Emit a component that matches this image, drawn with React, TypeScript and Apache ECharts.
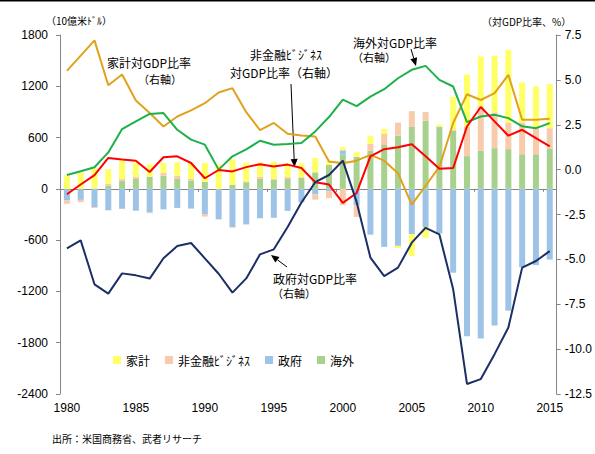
import React, { useEffect, useRef } from 'react';
import * as echarts from 'echarts';

const years = ['1980','1981','1982','1983','1984','1985','1986','1987','1988','1989','1990','1991','1992','1993','1994','1995','1996','1997','1998','1999','2000','2001','2002','2003','2004','2005','2006','2007','2008','2009','2010','2011','2012','2013','2014','2015'];

// Net lending by sector (billion USD)
const householdBar = [157,190,241,171,214,167,144,117,155,186,221,285,296,219,168,199,161,163,168,43,36,53,90,57,-24,-254,-124,22,383,607,582,662,855,467,487,516];
const businessBar = [-39,-27,-10,24,23,22,-6,33,39,21,-29,-1,-7,10,22,13,23,8,-63,-80,-190,-138,81,131,153,184,102,7,13,347,523,418,306,373,308,237];
const governmentBar = [-125,-126,-214,-251,-233,-256,-278,-240,-223,-231,-295,-357,-447,-416,-344,-339,-258,-157,-63,-29,51,-190,-536,-679,-667,-531,-448,-522,-981,-1725,-1750,-1598,-1425,-916,-892,-827];
const foreignBar = [-9,-3,4,35,91,117,142,153,116,94,83,0,48,78,117,106,115,127,193,282,400,375,445,513,622,725,798,723,681,383,444,476,465,405,405,472];

// Ratio to GDP (%), right axis
const householdPct = [5.5,6.35,7.2,4.7,5.3,3.85,3.15,2.4,2.96,3.3,3.7,4.3,4.54,3.2,2.2,2.6,2.0,1.9,1.85,0.45,0.35,0.5,0.82,0.5,-0.2,-1.95,-0.9,0.15,2.6,4.2,3.88,4.26,5.28,2.78,2.78,2.83];
const businessPct = [-1.37,-0.83,-0.31,0.65,0.56,0.5,-0.13,0.69,0.74,0.37,-0.48,-0.02,-0.1,0.14,0.3,0.17,0.28,0.09,-0.7,-0.83,-1.85,-1.3,0.74,1.14,1.25,1.41,0.74,0.05,0.09,2.4,3.49,2.69,1.89,2.22,1.76,1.3];
const governmentPct = [-4.39,-3.94,-6.39,-6.91,-5.78,-5.89,-6.07,-4.94,-4.26,-4.09,-4.94,-5.8,-6.85,-6.06,-4.72,-4.44,-3.2,-1.83,-0.7,-0.3,0.5,-1.8,-4.9,-5.93,-5.46,-4.07,-3.24,-3.61,-6.67,-11.94,-11.67,-10.28,-8.8,-5.46,-5.09,-4.54];
const foreignPct = [-0.3,-0.09,0.13,0.96,2.26,2.69,3.1,3.15,2.22,1.67,1.39,0.0,0.74,1.13,1.61,1.39,1.43,1.48,2.13,2.93,3.9,3.54,4.07,4.48,5.09,5.56,5.78,5.0,4.63,2.65,2.96,3.06,2.87,2.41,2.31,2.59];

const legendNames = ['家計', '非金融ﾋﾞｼﾞﾈｽ', '政府', '海外'];

const JP = '"Noto Sans CJK JP", sans-serif';
const NUM = '"Liberation Sans", Arial, sans-serif';

function txt(text: string, x: number, y: number, size: number, align: string = 'left') {
  return {
    type: 'text', x, y, silent: true,
    style: { text, font: `${size}px ${JP}`, fill: '#000', textAlign: align, textVerticalAlign: 'middle' },
  };
}

function arrow(x1: number, y1: number, x2: number, y2: number) {
  const dx = x2 - x1, dy = y2 - y1;
  const len = Math.sqrt(dx * dx + dy * dy);
  const ux = dx / len, uy = dy / len;
  const hl = 8, hw = 3.5;
  const bx = x2 - ux * hl, by = y2 - uy * hl;
  return [
    { type: 'line', silent: true, shape: { x1, y1, x2: bx, y2: by }, style: { stroke: '#000', lineWidth: 1 } },
    { type: 'polygon', silent: true, shape: { points: [[x2, y2], [bx - uy * hw, by + ux * hw], [bx + uy * hw, by - ux * hw]] }, style: { fill: '#000' } },
  ];
}

export default function App() {
  const ref = useRef<HTMLDivElement>(null);
  useEffect(() => {
    if (!ref.current) return;
    const chart = echarts.init(ref.current, undefined, { renderer: 'svg' });
    const axisColor = '#868686';
    const barCommon = { type: 'bar', stack: 'total', barWidth: 6, xAxisIndex: 0, yAxisIndex: 0 };
    const lineCommon = { type: 'line', xAxisIndex: 0, yAxisIndex: 1, symbol: 'none', z: 5 };
    chart.setOption({
      animation: false,
      grid: { left: 60, right: 38, top: 35, bottom: 60, containLabel: false },
      legend: {
        data: legendNames, left: 108, top: 349, icon: 'rect', itemWidth: 8, itemHeight: 8, itemGap: 15,
        textStyle: { fontFamily: JP, fontSize: 12, color: '#000' }, selectedMode: false,
      },
      xAxis: [
        {
          type: 'category', data: years, position: 'bottom', boundaryGap: true,
          axisLine: { show: true, onZero: true, onZeroAxisIndex: 0, lineStyle: { color: axisColor, width: 1 } },
          axisTick: { show: true, interval: 4, length: 3, lineStyle: { color: axisColor } },
          axisLabel: { show: false }, splitLine: { show: false },
        },
        {
          type: 'category', data: years, position: 'bottom', boundaryGap: true,
          axisLine: { show: false, onZero: false }, axisTick: { show: false },
          axisLabel: { show: true, interval: 4, margin: 8, fontSize: 12, fontFamily: NUM, color: '#000' },
          splitLine: { show: false },
        },
      ],
      yAxis: [
        {
          type: 'value', min: -2400, max: 1800, interval: 600, position: 'left',
          axisLine: { show: true, lineStyle: { color: axisColor } },
          axisTick: { show: true, length: 4, lineStyle: { color: axisColor } },
          axisLabel: { fontSize: 12, fontFamily: NUM, color: '#000', margin: 12, formatter: (v: number) => String(v) },
          splitLine: { show: false },
        },
        {
          type: 'value', min: -12.5, max: 7.5, interval: 2.5, position: 'right',
          axisLine: { show: true, lineStyle: { color: axisColor } },
          axisTick: { show: true, length: 4, lineStyle: { color: axisColor } },
          axisLabel: { fontSize: 12, fontFamily: NUM, color: '#000', margin: 8, formatter: (v: number) => v.toFixed(1) },
          splitLine: { show: false },
        },
      ],
      series: [
        { ...barCommon, name: '海外', data: foreignBar, itemStyle: { color: '#A9D18E' } },
        { ...barCommon, name: '政府', data: governmentBar, itemStyle: { color: '#9DC3E6' } },
        { ...barCommon, name: '非金融ﾋﾞｼﾞﾈｽ', data: businessBar, itemStyle: { color: '#F8CBAD' } },
        { ...barCommon, name: '家計', data: householdBar, itemStyle: { color: '#FFFF66' } },
        { ...lineCommon, name: '家計対GDP比率', data: householdPct, lineStyle: { color: '#E0A21C', width: 2 }, itemStyle: { color: '#E0A21C' } },
        { ...lineCommon, name: '海外対GDP比率', data: foreignPct, lineStyle: { color: '#1EB04A', width: 2 }, itemStyle: { color: '#1EB04A' } },
        { ...lineCommon, name: '非金融ﾋﾞｼﾞﾈｽ対GDP比率', data: businessPct, lineStyle: { color: '#FF0000', width: 2 }, itemStyle: { color: '#FF0000' } },
        { ...lineCommon, name: '政府対GDP比率', data: governmentPct, lineStyle: { color: '#1B2F66', width: 2 }, itemStyle: { color: '#1B2F66' } },
      ],
      graphic: [
        { type: 'rect', silent: true, shape: { x: 0, y: 0, width: 595, height: 1.5 }, style: { fill: '#000' } },
        txt('（10億米ﾄﾞﾙ）', 46, 20, 10),
        txt('（対GDP比率、%）', 482, 21, 10),
        txt('家計対GDP比率', 107, 62, 12),
        txt('（右軸）', 160, 79, 11, 'center'),
        txt('非金融ﾋﾞｼﾞﾈｽ', 286, 54, 12, 'center'),
        txt('対GDP比率（右軸）', 284, 72, 12, 'center'),
        txt('海外対GDP比率', 353, 42, 12),
        txt('（右軸）', 352, 57, 11),
        txt('政府対GDP比率', 273, 278, 12),
        txt('（右軸）', 272, 293, 11),
        txt('出所：米国商務省、武者リサーチ', 52, 438, 10),
        ...arrow(291, 84, 294.5, 167),
        ...arrow(411, 49, 416, 66),
        ...arrow(287, 267, 271, 255),
      ],
    });
    return () => chart.dispose();
  }, []);
  return <div ref={ref} style={{ position: 'fixed', left: 0, top: 0, width: 595, height: 454, background: '#fff' }} />;
}
